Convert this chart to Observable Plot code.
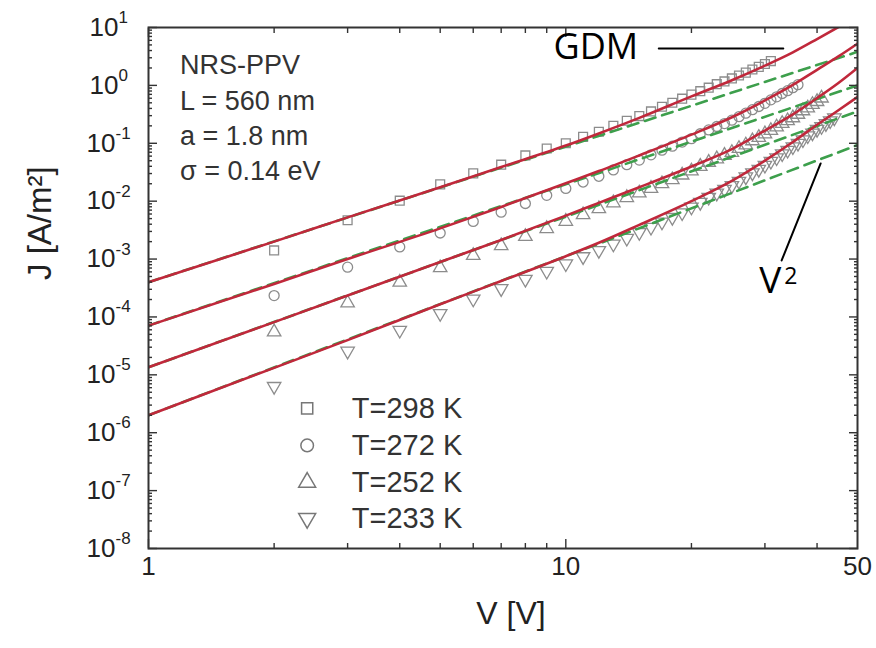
<!DOCTYPE html>
<html><head><meta charset="utf-8">
<script src="https://cdn.jsdelivr.net/npm/d3@7"></script>
<script src="https://cdn.jsdelivr.net/npm/@observablehq/plot@0.6"></script>
<style>
html,body{margin:0;padding:0;background:#fff;}
svg{display:block;}
</style></head><body>
<div id="chart"></div>
<script>
// ---- data ----
const seriesNames = ["T=298 K", "T=272 K", "T=252 K", "T=233 K"];

const V298 = [2,3,4,5,6,7,8,9,10,11,12,13,14,15,16,17,18,19,20,21,22,23,24,25,26,27,28,29,30,31];
const J298 = [1.41e-3,4.68e-3,1.02e-2,1.95e-2,3.02e-2,4.27e-2,6.17e-2,8.13e-2,0.100,0.129,0.158,0.200,0.245,0.295,0.355,0.427,0.501,0.589,0.692,0.794,0.912,1.05,1.17,1.32,1.48,1.66,1.88,2.09,2.34,2.63];

const V272 = [2,3,4,5,6,7,8,9,10,11,12,13,14,15,16,17,18,19,20,21,22,23,24,25,26,27,28,29,30,31,32,33,34,35,36];
const J272 = [2.34e-4,7.24e-4,1.62e-3,2.82e-3,4.47e-3,6.46e-3,9.12e-3,1.26e-2,1.66e-2,2.14e-2,2.69e-2,3.47e-2,4.27e-2,5.13e-2,6.31e-2,7.59e-2,8.91e-2,0.105,0.120,0.146,0.170,0.195,0.219,0.251,0.288,0.331,0.380,0.432,0.490,0.562,0.635,0.724,0.809,0.912,1.03];

const V252 = [2,3,4,5,6,7,8,9,10,11,12,13,14,15,16,17,18,19,20,21,22,23,24,25,26,27,28,29,30,31,32,33,34,35,36,37,38,39,40,41];
const J252 = [5.50e-5,1.74e-4,3.98e-4,7.08e-4,1.15e-3,1.70e-3,2.45e-3,3.35e-3,4.47e-3,5.82e-3,7.41e-3,9.33e-3,1.15e-2,1.38e-2,1.66e-2,2.00e-2,2.34e-2,2.82e-2,3.31e-2,3.98e-2,4.68e-2,5.37e-2,6.17e-2,6.92e-2,8.13e-2,9.33e-2,0.110,0.126,0.145,0.166,0.191,0.219,0.245,0.275,0.316,0.363,0.407,0.468,0.525,0.603];

const V233 = [2,3,4,5,6,7,8,9,10,11,12,13,14,15,16,17,18,19,20,21,22,23,24,25,26,27,28,29,30,31,32,33,34,35,36,37,38,39,40,41,42,43,44];
const J233 = [6.31e-6,2.57e-5,5.89e-5,1.15e-4,2.04e-4,3.09e-4,4.47e-4,6.17e-4,8.32e-4,1.10e-3,1.41e-3,1.82e-3,2.29e-3,2.88e-3,3.55e-3,4.37e-3,5.25e-3,6.31e-3,7.94e-3,9.55e-3,1.17e-2,1.38e-2,1.60e-2,1.86e-2,2.21e-2,2.63e-2,3.09e-2,3.55e-2,4.17e-2,4.90e-2,5.62e-2,6.61e-2,7.59e-2,8.71e-2,0.100,0.115,0.135,0.151,0.174,0.195,0.219,0.245,0.275];

// GDM fits (solid red)
const Vfit = [1,2,3,5,7,10,12,15,20,25,30,35,40,45,50];
const fit298 = [3.98e-4,2.00e-3,5.25e-3,1.74e-2,3.89e-2,9.12e-2,0.148,0.275,0.646,1.23,2.19,3.72,6.31,10.2,15.8];
const fit272 = [7.08e-5,3.72e-4,1.00e-3,3.39e-3,7.94e-3,2.04e-2,3.31e-2,6.17e-2,0.141,0.282,0.550,1.02,1.86,3.16,5.25];
const fit252 = [1.35e-5,8.13e-5,2.34e-4,8.91e-4,2.14e-3,5.62e-3,9.33e-3,1.74e-2,3.98e-2,7.94e-2,0.166,0.316,0.603,1.10,2.00];
const fit233 = [2.00e-6,1.32e-5,3.98e-5,1.66e-4,4.17e-4,1.12e-3,1.91e-3,3.89e-3,1.00e-2,2.24e-2,5.01e-2,0.105,0.209,0.372,0.631];

// V^2 lines (green dashed)
const Vsq = [1, 50];
const sq298 = [3.98e-4, 3.80];
const sq272 = [7.08e-5, 1.00];
const sq252 = [1.35e-5, 0.355];
const sq233 = [2.00e-6, 9.33e-2];

// axes
const xTickLabels = [1, 10, 50];
const xMajor = [1, 10];
const xMinor = [2,3,4,5,6,7,8,9,20,30,40];
const yExponents = [-8,-7,-6,-5,-4,-3,-2,-1,0,1];

// annotation text
const infoLines = ["NRS-PPV", "L = 560 nm", "a = 1.8 nm", "σ = 0.14 eV"];
const infoJ = [2.21, 0.527, 0.131, 0.0326];

// ---- build ----
const yMajor = yExponents.map(e => 10 ** e);
const yMinor = [];
for (const e of yExponents.slice(0, -1)) for (let m = 2; m <= 9; m++) yMinor.push(m * 10 ** e);

const triangleDown = {
  draw(context, size) {
    const s3 = Math.sqrt(3);
    const y = -Math.sqrt(size / (s3 * 3));
    context.moveTo(0, -y * 2);
    context.lineTo(-s3 * y, y);
    context.lineTo(s3 * y, y);
    context.closePath();
  }
};
const symbols = ["square", "circle", "triangle", triangleDown];

const pts = [[V298,J298],[V272,J272],[V252,J252],[V233,J233]].map(([V,J]) => V.map((v,i) => ({V: v, J: J[i]})));
const fits = [fit298, fit272, fit252, fit233].map((F, k) => Vfit.map((v,i) => ({V: v, J: F[i], k})));
const sqs = [sq298, sq272, sq252, sq233].map((F, k) => Vsq.map((v,i) => ({V: v, J: F[i], k})));

const legendRows = seriesNames.map((name, i) => ({name, i, J: [2.63e-6, 6.04e-7, 1.39e-7, 3.31e-8][i]}));

const markerStroke = "#8c8c8c";
const red = "#c0283b";
const green = "#3d9f4c";
const axisCol = "#333";

const marks = [];
// markers
pts.forEach((P, i) => marks.push(Plot.dot(P, {x: "V", y: "J", symbol: symbols[i], r: 5, stroke: markerStroke, strokeWidth: 1.3, fill: "none"})));
// green V^2 lines
sqs.forEach(S => marks.push(Plot.line(S, {x: "V", y: "J", stroke: green, strokeWidth: 2.6, strokeDasharray: "11,7", clip: true})));
// red GDM fits
fits.forEach(F => marks.push(Plot.line(F, {x: "V", y: "J", stroke: red, strokeWidth: 2.6, curve: "monotone-x", clip: true})));

// frame + ticks (inward)
marks.push(Plot.frame({stroke: axisCol, strokeWidth: 2}));
const tk = {fill: "none", label: null, stroke: axisCol, strokeWidth: 1.4};
marks.push(
  Plot.axisX(xMajor, {anchor: "bottom", tickSize: -9, ...tk}),
  Plot.axisX(xMinor, {anchor: "bottom", tickSize: -5, ...tk}),
  Plot.axisX(xMajor, {anchor: "top", tickSize: -9, ...tk}),
  Plot.axisX(xMinor, {anchor: "top", tickSize: -5, ...tk}),
  Plot.axisY(yMajor, {anchor: "left", tickSize: -9, ...tk}),
  Plot.axisY(yMinor, {anchor: "left", tickSize: -4, ...tk}),
  Plot.axisY(yMajor, {anchor: "right", tickSize: -9, ...tk}),
  Plot.axisY(yMinor, {anchor: "right", tickSize: -4, ...tk})
);

// tick labels
const nonneg = yExponents.filter(e => e >= 0), neg = yExponents.filter(e => e < 0);
marks.push(
  Plot.text(xTickLabels, {x: d => d, text: d => String(d), frameAnchor: "bottom", dy: 26, fontSize: 26, fill: "#222"}),
  Plot.text(nonneg, {y: e => 10 ** e, text: () => "10", frameAnchor: "left", textAnchor: "end", dx: -30, fontSize: 26, fill: "#222"}),
  Plot.text(nonneg, {y: e => 10 ** e, text: e => String(e), frameAnchor: "left", textAnchor: "start", dx: -30, dy: -10, fontSize: 17, fill: "#222"}),
  Plot.text(neg, {y: e => 10 ** e, text: () => "10", frameAnchor: "left", textAnchor: "end", dx: -33, fontSize: 26, fill: "#222"}),
  Plot.text(neg, {y: e => 10 ** e, text: e => String(e), frameAnchor: "left", textAnchor: "start", dx: -33, dy: -10, fontSize: 17, fill: "#222"})
);

// axis titles
marks.push(
  Plot.text(["V [V]"], {frameAnchor: "bottom", dx: 8, dy: 75, fontSize: 32, fill: "#222"}),
  Plot.text(["J [A/m²]"], {frameAnchor: "left", dx: -108, dy: -8, rotate: -90, fontSize: 33, fill: "#222"})
);

// info text
marks.push(Plot.text(infoLines, {x: () => 1.19, y: (d, i) => infoJ[i], text: d => d, textAnchor: "start", fontSize: 27, fill: "#333"}));

// legend
legendRows.forEach(r => marks.push(Plot.dot([r], {x: () => 2.40, y: "J", symbol: symbols[r.i], r: 6.3, stroke: "#777", strokeWidth: 1.5, fill: "none"})));
marks.push(Plot.text(legendRows, {x: () => 3.07, y: "J", text: "name", textAnchor: "start", fontSize: 29, fill: "#333"}));

// annotations GDM and V^2
const gdmLine = [{V: 16.7, J: 4.33}, {V: 33.2, J: 4.33}];
const v2Line = [{V: 40.8, J: 0.0448}, {V: 32.9, J: 9.46e-4}];
marks.push(
  Plot.line(gdmLine, {x: "V", y: "J", stroke: "#000", strokeWidth: 2}),
  Plot.line(v2Line, {x: "V", y: "J", stroke: "#000", strokeWidth: 2}),
  Plot.text(["GDM"], {x: () => 11.8, y: () => 4.52, fontSize: 36, fontFamily: "Open Sans", fill: "#000"}),
  Plot.text(["V"], {x: () => 30.9, y: () => 4.1e-4, fontSize: 37, fontFamily: "Open Sans", fill: "#000"}),
  Plot.text(["2"], {x: () => 34.6, y: () => 5.0e-4, fontSize: 23, fontFamily: "Open Sans", fill: "#000"})
);

const chart = Plot.plot({
  width: 876,
  height: 648,
  marginLeft: 148,
  marginRight: 19,
  marginTop: 27,
  marginBottom: 100,
  x: {type: "log", domain: [1, 50]},
  y: {type: "log", domain: [1e-8, 10]},
  style: {fontFamily: "'Liberation Sans', Arial, sans-serif", fontSize: "25px", background: "#fff", color: "#222"},
  marks
});
document.getElementById("chart").appendChild(chart);
</script>
</body></html>
